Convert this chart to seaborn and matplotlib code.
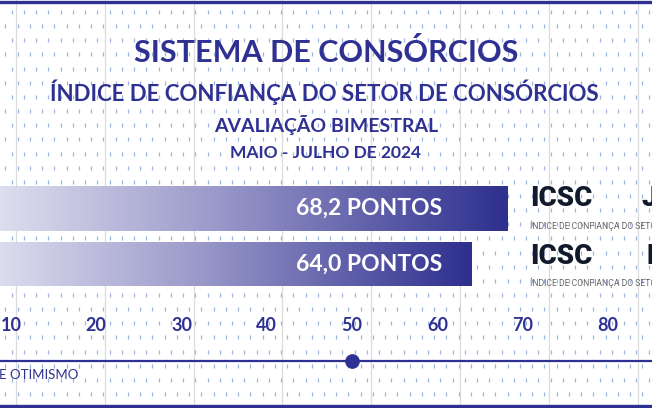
import numpy as np
import matplotlib.pyplot as plt
import seaborn as sns
from matplotlib.colors import LinearSegmentedColormap

# dados do painel
periodos = ['JULHO', 'MAIO']
pontos = [68.2, 64.0]
rotulos = ['68,2 PONTOS', '64,0 PONTOS']
escala = [10, 20, 30, 40, 50, 60, 70, 80]
linha_otimismo = 50

titulo = 'SISTEMA DE CONSÓRCIOS'
subtitulo = 'ÍNDICE DE CONFIANÇA DO SETOR DE CONSÓRCIOS'
avaliacao = 'AVALIAÇÃO BIMESTRAL'
periodo_txt = 'MAIO - JULHO DE 2024'

AZUL = '#2e3192'
W, H = 652, 408

sns.set_theme(style='white')
plt.rcParams['font.family'] = ['Lato', 'DejaVu Sans']

fig = plt.figure(figsize=(W / 100, H / 100), dpi=100)

# --- fundo pontilhado (coordenadas em pixels) ---
bg = fig.add_axes([0, 0, 1, 1])
bg.set_xlim(0, W)
bg.set_ylim(H, 0)
bg.axis('off')
for gx in np.arange(16, W, 88.8):
    bg.axvline(gx, color='#dcdcdc', lw=0.9, zorder=0)
linhas = np.arange(12, H, 14.15)
xs, ys = [], []
for k, ry in enumerate(linhas):
    off = 11.7 if k % 2 == 0 else 5.4
    for cx in np.arange(off, W, 12.25):
        xs.append(cx)
        ys.append(ry)
bg.scatter(xs, ys, marker='|', s=9, lw=0.9, color='#9bb5dc', zorder=1)
bg.axhline(1.5, color=AZUL, lw=2.4, zorder=2)
bg.axhline(406, color=AZUL, lw=2.4, zorder=2)

# títulos
bg.text(W / 2, 52, titulo, ha='center', va='center', color=AZUL, fontsize=22, fontweight='bold')
bg.text(W / 2 - 2, 92, subtitulo, ha='center', va='center', color=AZUL, fontsize=16, fontweight='bold')
bg.text(W / 2, 125, avaliacao, ha='center', va='center', color=AZUL, fontsize=14, fontweight='bold')
bg.text(W / 2, 153, periodo_txt, ha='center', va='center', color=AZUL, fontsize=12.5, fontweight='bold')

# marca ICSC à direita
for ry, per, dx in [(199, periodos[0], 641), (256, periodos[1], 647)]:
    bg.text(530, ry, 'ICSC', ha='left', va='center', color='#111a2b', fontsize=20,
            fontweight='black', family=['Roboto', 'DejaVu Sans'])
    bg.text(dx, ry, per, ha='left', va='center', color='#111a2b', fontsize=20,
            fontweight='black', family=['Roboto', 'DejaVu Sans'])
    bg.text(530, ry + 27, subtitulo, ha='left', va='center', color='#666666', fontsize=6.2,
            family=['Roboto', 'DejaVu Sans'])

bg.text(-1, 375, 'E OTIMISMO', ha='left', va='center', color=AZUL, fontsize=9.5)

# --- barras com degradê ---
px_unid = (608 - 11) / (80 - 10)
x_ini = 10 - 11 / px_unid
x_fim = x_ini + W / px_unid

ax = fig.add_axes([0, 0, 1, 1])
ax.patch.set_alpha(0)
sns.barplot(x=pontos, y=periodos, orient='h', width=0.81, color=AZUL, ax=ax)

cmap = LinearSegmentedColormap.from_list('grad', ['#f5f5fb', '#9a99ca', '#2e2f8e'])
grad = np.linspace(0, 1, 256).reshape(1, -1)
for p in ax.patches:
    x0, y0, w, h = p.get_x(), p.get_y(), p.get_width(), p.get_height()
    im = ax.imshow(grad, extent=[x0, x0 + w, y0 + h, y0], aspect='auto', cmap=cmap, zorder=3)
    im.set_clip_path(p)
    p.set_edgecolor('none')

for i, r in enumerate(rotulos):
    ax.text(52, i, r, ha='center', va='center', color='white', fontsize=16.5, fontweight='bold', zorder=5)

passo = 55.5
ax.set_xlim(x_ini, x_fim)
ax.set_ylim((H - 208.5) / passo, -208.5 / passo)
ax.axis('off')

# --- escala com a linha de otimismo ---
topo, base = 335, 395
ax2 = fig.add_axes([0, 1 - base / H, 1, (base - topo) / H])
ax2.patch.set_alpha(0)
ax2.set_xlim(x_ini, x_fim)
ax2.set_ylim(-(base - 361), 361 - topo)
ax2.axhline(0, color=AZUL, lw=1.6, zorder=2)
sns.scatterplot(x=[linha_otimismo], y=[0], s=95, color=AZUL, edgecolor=AZUL, ax=ax2, zorder=3)
ax2.xaxis.tick_top()
ax2.set_xticks(escala)
ax2.set_xticklabels([str(v) for v in escala], color=AZUL, fontsize=13, fontweight='bold')
ax2.tick_params(axis='x', length=0, pad=1)
ax2.set_yticks([])
for s in ax2.spines.values():
    s.set_visible(False)

fig.savefig('out.png', dpi=100)
